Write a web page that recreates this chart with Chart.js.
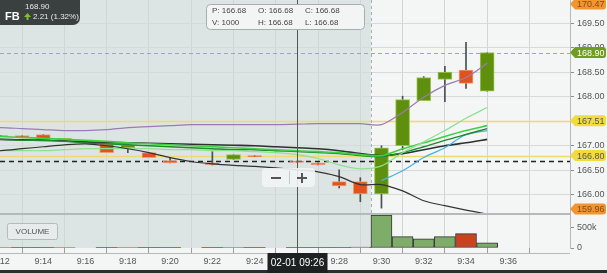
<!DOCTYPE html>
<html>
<head>
<meta charset="utf-8">
<script src="https://cdn.jsdelivr.net/npm/chart.js@4.4.0/dist/chart.umd.min.js"></script>
<style>
  html, body { margin: 0; padding: 0; background: #f4f5f5; overflow: hidden; }
  canvas { display: block; }
</style>
</head>
<body>
<canvas id="c" width="607" height="273"></canvas>
<script>
// one-minute bars, 09:11 .. 09:35
const times = ['9:11', '9:12', '9:13', '9:14', '9:15', '9:16', '9:17', '9:18', '9:19', '9:20', '9:21', '9:22', '9:23',
               '9:24', '9:25', '9:26', '9:27', '9:28', '9:29', '9:30', '9:31', '9:32', '9:33', '9:34', '9:35'];
const opens   = [null, 167.19, 167.21, 167.23, 167.11, null, 167.04, 166.96, 166.86, 166.70, null, 166.65, 166.72,
                 166.80, null, 166.69, 166.65, 166.27, 166.27, 166.02, 167.00, 167.92, 168.35, 168.54, 168.11];
const highs   = [null, 167.21, 167.21, 167.23, 167.15, null, 167.04, 167.02, 166.86, 166.76, null, 166.88, 166.82,
                 166.80, null, 166.69, 166.65, 166.51, 166.35, 167.00, 168.01, 168.41, 168.62, 169.11, 168.90];
const lows    = [null, 167.19, 167.17, 167.11, 167.11, null, 166.86, 166.86, 166.76, 166.65, null, 166.61, 166.72,
                 166.78, null, 166.66, 166.61, 166.14, 165.86, 165.73, 166.92, 167.92, 167.90, 168.17, 168.11];
const closes  = [null, 167.21, 167.17, 167.11, 167.15, null, 166.86, 167.02, 166.76, 166.65, null, 166.61, 166.82,
                 166.78, null, 166.66, 166.61, 166.18, 166.02, 166.96, 167.94, 168.39, 168.50, 168.27, 168.90];
const volumes = [null, 1000, 1000, 1000, 1000, null, 1000, 1000, 1000, 1000, null, 1000, 1000,
                 1000, null, 1000, 1000, 1000, 20000, 800000, 275000, 225000, 275000, 350000, 125000];

// indicator lines
const upperBand = [167.37, 167.37, 167.35, 167.33, 167.31, 167.31, 167.33, 167.37, 167.39, 167.41, 167.43, 167.43, 167.43,
                   167.43, 167.43, 167.44, 167.45, 167.45, 167.45, 167.43, 167.68, 167.99, 168.23, 168.39, 168.68];
const midLine   = [167.13, 167.13, 167.12, 167.11, 167.10, 167.08, 167.07, 167.06, 167.05, 167.04, 167.03, 167.02, 167.01,
                   167.00, 166.98, 166.96, 166.94, 166.90, 166.84, 166.80, 166.84, 166.92, 167.00, 167.06, 167.13];
const lowerBand = [166.87, 166.90, 166.94, 166.98, 167.02, 167.04, 167.00, 166.94, 166.86, 166.76, 166.68, 166.63, 166.60,
                   166.58, 166.55, 166.51, 166.47, 166.37, 166.21, 166.21, 166.08, 165.88, 165.78, 165.69, 165.61];
const maFast    = [166.90, 166.90, 166.90, 166.90, 166.92, 166.94, 166.94, 166.94, 166.94, 166.92, 166.92, 166.90, 166.90,
                   166.88, 166.86, 166.82, 166.74, 166.61, 166.53, 166.59, 166.86, 167.08, 167.31, 167.56, 167.78];
const maMid     = [167.21, 167.19, 167.17, 167.15, 167.13, 167.11, 167.09, 167.06, 167.04, 167.02, 167.00, 166.98, 166.96,
                   166.94, 166.92, 166.90, 166.88, 166.86, 166.82, 166.80, 166.94, 167.06, 167.19, 167.31, 167.41];
const maSlow    = [167.13, 167.13, 167.11, 167.11, 167.09, 167.06, 167.04, 167.02, 167.00, 166.98, 166.96, 166.94, 166.92,
                   166.92, 166.90, 166.88, 166.86, 166.84, 166.80, 166.78, 166.86, 166.98, 167.11, 167.23, 167.35];
const maSession = [null, null, null, null, null, null, null, null, null, null, null, null, null,
                   null, null, null, null, null, null, 166.29, 166.49, 166.76, 166.96, 167.23, 167.31];

// axis ticks
const priceTicks = [166.0, 166.5, 167.0, 167.5, 168.0, 168.5, 169.0, 169.5];
const volumeTicks = [0, 500000];

// price levels and header
const lastPrice = 168.90;
const prevClose = 166.69;
const levelHigh = 167.51;
const levelLow = 166.80;
const rangeHigh = 170.47;
const rangeLow = 159.96;
const symbol = 'FB';
const changeText = '2.21 (1.32%)';
const sessionOpen = '9:30';
const hoverTime = '9:26';
const hoverDate = '02-01 09:26';
const hoverPrice = 166.68;
const hoverVolume = 1000;

const UP = '#5e900d', UP_EDGE = '#98c455';
const DN = '#e2521d', DN_EDGE = '#f39a74';

const toMin = t => { const [h, m] = t.split(':').map(Number); return h * 60 + m - 540; };
const mins = times.map(toMin);
const have = times.map((t, i) => i).filter(i => opens[i] !== null);

const bodies = have.map(i => ({x: mins[i], y: [opens[i], closes[i]], up: closes[i] >= opens[i]}));
const wicks = have.map(i => ({x: mins[i], y: [lows[i], highs[i]]}));
const vols = have.map(i => ({x: mins[i], y: volumes[i], up: closes[i] >= opens[i]}));
const series = arr => arr.map((v, i) => ({x: mins[i], y: v})).filter(p => p.y !== null);

function line(label, arr, color, width) {
    return {
        type: 'line', label, data: series(arr), yAxisID: 'y',
        borderColor: color, borderWidth: width, pointRadius: 0, tension: 0.3, order: 0
    };
}

Chart.defaults.font.family = '"Liberation Sans", Arial, sans-serif';
Chart.defaults.font.size = 9;
Chart.defaults.color = '#555';

function hline(ctx, a, y, value, color, width, dash) {
    const py = Math.round(y.getPixelForValue(value)) + 0.5;
    ctx.save();
    ctx.strokeStyle = color;
    ctx.lineWidth = width;
    ctx.setLineDash(dash);
    ctx.beginPath();
    ctx.moveTo(a.left, py);
    ctx.lineTo(a.right, py);
    ctx.stroke();
    ctx.restore();
}

function tag(ctx, xl, yc, text, bg, fg) {
    const w = 36, h = 11;
    ctx.beginPath();
    ctx.moveTo(xl, yc);
    ctx.lineTo(xl + 5, yc - h / 2);
    ctx.lineTo(xl + w - 3, yc - h / 2);
    ctx.quadraticCurveTo(xl + w, yc - h / 2, xl + w, yc - h / 2 + 3);
    ctx.lineTo(xl + w, yc + h / 2 - 3);
    ctx.quadraticCurveTo(xl + w, yc + h / 2, xl + w - 3, yc + h / 2);
    ctx.lineTo(xl + 5, yc + h / 2);
    ctx.closePath();
    ctx.fillStyle = bg;
    ctx.fill();
    ctx.fillStyle = fg;
    ctx.font = '9px "Liberation Sans", Arial, sans-serif';
    ctx.textAlign = 'left';
    ctx.textBaseline = 'middle';
    ctx.fillText(text, xl + 7, yc + 0.5);
}

const decor = {
    id: 'decor',
    beforeDraw(chart) {
        const {ctx, chartArea: a, scales: {x}} = chart;
        ctx.save();
        ctx.fillStyle = '#f4f5f5';
        ctx.fillRect(0, 0, chart.width, chart.height);
        const xo = x.getPixelForValue(toMin(sessionOpen) - 0.5);
        ctx.fillStyle = '#dde4e4';
        ctx.fillRect(a.left, a.top, xo - a.left, a.bottom - a.top);
        ctx.restore();
    },
    beforeDatasetsDraw(chart) {
        const {ctx, chartArea: a, scales: {x, y}} = chart;
        hline(ctx, a, y, levelHigh, '#eedb6e', 1.5, []);
        hline(ctx, a, y, levelLow, '#eedb6e', 1.5, []);
        hline(ctx, a, y, lastPrice, '#a4b07a', 1, [4, 3]);
        hline(ctx, a, y, prevClose, '#222', 1.5, [5, 4]);
        const xo = Math.round(x.getPixelForValue(toMin(sessionOpen) - 0.5)) + 0.5;
        ctx.save();
        ctx.strokeStyle = '#a9b0b0';
        ctx.setLineDash([3, 3]);
        ctx.beginPath();
        ctx.moveTo(xo, a.top);
        ctx.lineTo(xo, a.bottom);
        ctx.stroke();
        ctx.restore();
    },
    afterDraw(chart) {
        const {ctx, chartArea: a, scales: {x, y, v}} = chart;
        ctx.save();
        // panel separator and time axis line
        ctx.fillStyle = '#b4baba';
        ctx.fillRect(0, Math.round(v.top) - 1, a.right, 2);
        ctx.fillRect(0, a.bottom + 5, a.right, 1);

        // crosshair
        const xc = Math.round(x.getPixelForValue(toMin(hoverTime))) + 0.5;
        ctx.strokeStyle = '#555';
        ctx.lineWidth = 1;
        ctx.beginPath();
        ctx.moveTo(xc, 0);
        ctx.lineTo(xc, a.bottom + 5);
        ctx.stroke();

        // price tags on the right axis
        const clampY = val => Math.min(Math.max(y.getPixelForValue(val), 4), y.bottom - 5);
        tag(ctx, a.right, clampY(rangeHigh), rangeHigh.toFixed(2), '#f0952f', '#8a4a12');
        tag(ctx, a.right, clampY(lastPrice), lastPrice.toFixed(2), '#6f9d1e', '#fff');
        tag(ctx, a.right, clampY(levelHigh), levelHigh.toFixed(2), '#f2dc3c', '#555');
        tag(ctx, a.right, clampY(levelLow), levelLow.toFixed(2), '#f2dc3c', '#555');
        tag(ctx, a.right, clampY(rangeLow), rangeLow.toFixed(2), '#f0952f', '#8a4a12');

        // symbol box
        ctx.fillStyle = '#3a3f3f';
        ctx.beginPath();
        ctx.roundRect(-8, -8, 88, 33, 7);
        ctx.fill();
        ctx.fillStyle = '#e8eaea';
        ctx.textBaseline = 'middle';
        ctx.textAlign = 'left';
        ctx.font = '8px "Liberation Sans", Arial, sans-serif';
        ctx.fillText(lastPrice.toFixed(2), 25, 7);
        ctx.fillStyle = '#fff';
        ctx.font = 'bold 11px "Liberation Sans", Arial, sans-serif';
        ctx.fillText(symbol, 5, 17);
        ctx.fillStyle = '#7cc12a';
        ctx.beginPath();
        ctx.moveTo(27.5, 13);
        ctx.lineTo(31, 17);
        ctx.lineTo(24, 17);
        ctx.closePath();
        ctx.fill();
        ctx.fillRect(26.5, 17, 2, 3);
        ctx.fillStyle = '#e8eaea';
        ctx.font = '8px "Liberation Sans", Arial, sans-serif';
        ctx.fillText(changeText, 33, 17);

        // hover info box
        ctx.fillStyle = '#f3f5f5';
        ctx.strokeStyle = '#a8aeae';
        ctx.beginPath();
        ctx.roundRect(206.5, 4.5, 158, 25, 4);
        ctx.fill();
        ctx.stroke();
        ctx.fillStyle = '#444';
        ctx.font = '8px "Liberation Sans", Arial, sans-serif';
        const hp = hoverPrice.toFixed(2);
        ctx.fillText('P: ' + hp, 212, 11);
        ctx.fillText('O: ' + hp, 258, 11);
        ctx.fillText('C: ' + hp, 305, 11);
        ctx.fillText('V: ' + hoverVolume, 212, 23);
        ctx.fillText('H: ' + hp, 258, 23);
        ctx.fillText('L: ' + hp, 305, 23);

        // zoom control
        ctx.fillStyle = 'rgba(242,244,244,0.9)';
        ctx.beginPath();
        ctx.roundRect(262, 168, 53, 19, 4);
        ctx.fill();
        ctx.fillStyle = '#555';
        ctx.fillRect(271, 177, 10, 2);
        ctx.fillRect(297, 177, 10, 2);
        ctx.fillRect(301, 173, 2, 10);
        ctx.fillStyle = '#c4c8c8';
        ctx.fillRect(289, 171, 1, 13);

        // volume button
        ctx.fillStyle = '#e7ebeb';
        ctx.strokeStyle = '#b5baba';
        ctx.beginPath();
        ctx.roundRect(7.5, 223.5, 50, 16, 2);
        ctx.fill();
        ctx.stroke();
        ctx.fillStyle = '#555';
        ctx.textAlign = 'center';
        ctx.font = '8px "Liberation Sans", Arial, sans-serif';
        ctx.fillText('VOLUME', 32.5, 231.5);

        // bottom strip and time label
        ctx.fillStyle = '#2b2e2e';
        ctx.fillRect(0, 270, chart.width, 3);
        ctx.fillStyle = '#1d2121';
        ctx.fillRect(xc - 30, a.bottom + 5, 60, 273 - a.bottom - 5);
        ctx.fillStyle = '#fff';
        ctx.font = '10px "Liberation Sans", Arial, sans-serif';
        ctx.fillText(hoverDate, xc, 263);
        ctx.restore();
    }
};

new Chart(document.getElementById('c'), {
    type: 'bar',
    data: {
        datasets: [
            line('upper', upperBand, '#9c7bb2', 1.2),
            line('lower', lowerBand, '#333', 1.2),
            line('ma fast', maFast, '#8fe08f', 1.2),
            line('ma mid', maMid, '#3fd03f', 1.6),
            line('ma slow', maSlow, '#1f8a2f', 1.4),
            line('session', maSession, '#4ab0e6', 1.2),
            line('mid', midLine, '#2c3131', 1.6),
            {
                label: 'body', data: bodies, yAxisID: 'y', grouped: false, order: 1,
                barThickness: 14, borderWidth: 1, borderSkipped: false,
                backgroundColor: c => (c.raw && c.raw.up ? UP : DN),
                borderColor: c => (c.raw && c.raw.up ? UP_EDGE : DN_EDGE)
            },
            {
                label: 'wick', data: wicks, yAxisID: 'y', grouped: false, order: 2,
                barThickness: 1, backgroundColor: '#4a4f4f'
            },
            {
                label: 'volume', data: vols, yAxisID: 'v', grouped: false, order: 3,
                barThickness: 21, borderSkipped: false, borderColor: '#333',
                borderWidth: c => (c.raw && c.raw.y > 5000 ? 1 : 0),
                backgroundColor: c => (c.raw && c.raw.up ? '#7eac69' : '#c7441f')
            }
        ]
    },
    options: {
        responsive: false,
        animation: false,
        devicePixelRatio: 1,
        layout: { padding: 0 },
        plugins: { legend: { display: false }, tooltip: { enabled: false } },
        scales: {
            x: {
                type: 'linear', min: 11.953, max: 38.92, offset: false,
                afterBuildTicks: s => { s.ticks = s.ticks.filter(t => t.value >= 12 && t.value <= 36 && t.value % 2 === 0); },
                afterFit: s => { s.height = 25; s.paddingLeft = 0; s.paddingRight = 0; },
                ticks: {
                    stepSize: 2, includeBounds: false, autoSkip: false, maxRotation: 0, padding: 3, color: '#555',
                    callback: val => '9:' + String(val).padStart(2, '0')
                },
                grid: { color: '#d0d6d6', tickColor: '#9aa0a0', tickLength: 5 },
                border: { display: false }
            },
            y: {
                position: 'right', stack: 'panes', stackWeight: 214,
                min: 165.61, max: 169.97,
                afterBuildTicks: s => { s.ticks = priceTicks.map(value => ({value})); },
                afterFit: s => { s.width = 37; s.paddingTop = 0; s.paddingBottom = 0; },
                ticks: { autoSkip: false, padding: 3, color: '#555', callback: val => val.toFixed(2) },
                grid: { color: '#d5dada', tickColor: '#8a9090', tickLength: 4 },
                border: { display: true, color: '#b4baba' }
            },
            v: {
                position: 'right', stack: 'panes', stackWeight: 34,
                min: 0, max: 825000,
                afterBuildTicks: s => { s.ticks = volumeTicks.map(value => ({value})); },
                afterFit: s => { s.width = 37; s.paddingTop = 0; s.paddingBottom = 0; },
                ticks: { autoSkip: false, padding: 3, color: '#555', callback: val => (val ? val / 1000 + 'k' : '0') },
                grid: { drawOnChartArea: false, tickColor: '#8a9090', tickLength: 4 },
                border: { display: true, color: '#b4baba' }
            }
        }
    },
    plugins: [decor]
});
</script>
</body>
</html>
